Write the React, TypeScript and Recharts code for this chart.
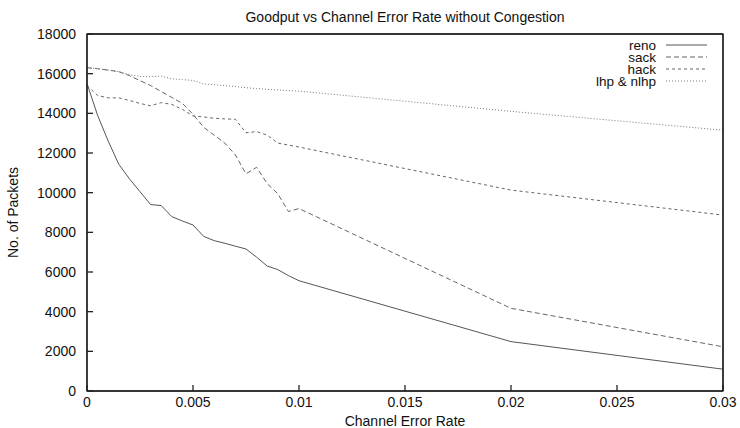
import { LineChart, Line, XAxis, YAxis } from 'recharts'

const ERROR_RATE = [
  0, 0.0005, 0.001, 0.0015, 0.002, 0.0025, 0.003, 0.0035, 0.004, 0.0045, 0.005,
  0.0055, 0.006, 0.0065, 0.007, 0.0075, 0.008, 0.0085, 0.009, 0.0095, 0.01, 0.02, 0.03,
]

const RENO = [
  15500, 13900, 12600, 11430, 10700, 10050, 9400, 9350, 8790, 8570, 8370,
  7800, 7580, 7450, 7300, 7160, 6750, 6300, 6120, 5820, 5560, 2490, 1100,
]
const SACK = [
  16300, 16250, 16180, 16100, 15900, 15650, 15400, 15100, 14800, 14500, 13950,
  13300, 12900, 12500, 11900, 10950, 11280, 10450, 9950, 9050, 9200, 4170, 2230,
]
const HACK = [
  15400, 14900, 14780, 14780, 14650, 14500, 14380, 14540, 14450, 14200, 13870,
  13820, 13750, 13720, 13700, 13020, 13080, 12900, 12500, 12400, 12300, 10130, 8870,
]
const LHP = [
  16300, 16250, 16180, 16100, 15950, 15860, 15850, 15880, 15740, 15700, 15660,
  15480, 15440, 15400, 15350, 15290, 15250, 15210, 15180, 15150, 15120, 14100, 13150,
]

const X_TICKS = [0, 0.005, 0.01, 0.015, 0.02, 0.025, 0.03]
const Y_TICKS = [0, 2000, 4000, 6000, 8000, 10000, 12000, 14000, 16000, 18000]

const SERIES = [
  { key: 'reno', label: 'reno', color: '#555555', dash: undefined },
  { key: 'sack', label: 'sack', color: '#666666', dash: '5 3' },
  { key: 'hack', label: 'hack', color: '#666666', dash: '3 3' },
  { key: 'lhp', label: 'lhp & nlhp', color: '#777777', dash: '1 2' },
]

const FONT = '"Liberation Sans", Arial, Helvetica, sans-serif'
const AXIS = '#222222'

const data = ERROR_RATE.map((x, i) => ({
  x,
  reno: RENO[i],
  sack: SACK[i],
  hack: HACK[i],
  lhp: LHP[i],
}))

// gnuplot style key in the top right corner
function KeyBox() {
  return (
    <svg
      width={160}
      height={52}
      style={{ position: 'absolute', left: 560, top: 38, display: 'block' }}
    >
      {SERIES.map((s, i) => (
        <g key={s.key}>
          <text
            x={96}
            y={7 + i * 12}
            textAnchor="end"
            dominantBaseline="central"
            fontSize={13.5}
            fontFamily={FONT}
            fill="#111"
          >
            {s.label}
          </text>
          <line
            x1={106}
            x2={147}
            y1={7 + i * 12}
            y2={7 + i * 12}
            stroke={s.color}
            strokeWidth={1}
            strokeDasharray={s.dash}
          />
        </g>
      ))}
    </svg>
  )
}

export default function App() {
  const tickStyle = { fill: '#111', fontSize: 14, fontFamily: FONT }
  const axisLine = { stroke: AXIS, strokeWidth: 1.3 }
  return (
    <div style={{ position: 'absolute', left: 0, top: 0, width: 740, height: 428, background: '#fff' }}>
      <div
        style={{
          position: 'absolute', left: 87, width: 636, top: 9, textAlign: 'center',
          fontFamily: FONT, fontSize: 14, color: '#111',
        }}
      >
        Goodput vs Channel Error Rate without Congestion
      </div>
      <LineChart
        width={740}
        height={428}
        data={data}
        margin={{ top: 30, right: 12, bottom: 0, left: 0 }}
      >
        <XAxis
          dataKey="x"
          type="number"
          domain={[0, 0.03]}
          ticks={X_TICKS}
          tickFormatter={(v: number) => String(v)}
          height={37}
          tickSize={-6}
          tickMargin={12}
          tick={tickStyle}
          axisLine={axisLine}
          tickLine={axisLine}
          label={{ value: 'Channel Error Rate', position: 'insideBottom', offset: 2, fill: '#111', fontSize: 14, fontFamily: FONT }}
        />
        <XAxis
          xAxisId="top"
          orientation="top"
          dataKey="x"
          type="number"
          domain={[0, 0.03]}
          ticks={X_TICKS}
          height={4}
          tickSize={-6}
          tickMargin={0}
          tick={false}
          axisLine={axisLine}
          tickLine={axisLine}
        />
        <YAxis
          type="number"
          domain={[0, 18000]}
          ticks={Y_TICKS}
          width={87}
          tickSize={-6}
          tickMargin={17}
          tick={tickStyle}
          axisLine={axisLine}
          tickLine={axisLine}
          label={{
            value: 'No. of Packets', angle: -90, position: 'insideLeft', offset: 13,
            fill: '#111', fontSize: 14, fontFamily: FONT, style: { textAnchor: 'middle' },
          }}
        />
        <YAxis
          yAxisId="right"
          orientation="right"
          type="number"
          domain={[0, 18000]}
          ticks={Y_TICKS}
          width={5}
          tickSize={-6}
          tickMargin={0}
          tick={false}
          axisLine={axisLine}
          tickLine={axisLine}
        />
        {/* invisible copy so the mirrored top/right axes get rendered */}
        <Line
          xAxisId="top"
          yAxisId="right"
          dataKey="reno"
          stroke="none"
          dot={false}
          activeDot={false}
          legendType="none"
          isAnimationActive={false}
        />
        {SERIES.map((s) => (
          <Line
            key={s.key}
            type="linear"
            dataKey={s.key}
            name={s.label}
            stroke={s.color}
            strokeWidth={1}
            strokeDasharray={s.dash}
            dot={false}
            activeDot={false}
            isAnimationActive={false}
          />
        ))}
      </LineChart>
      <svg
        width={740}
        height={428}
        style={{ position: 'absolute', left: 0, top: 0, pointerEvents: 'none' }}
      >
        <rect x={87} y={34} width={636} height={357} fill="none" stroke={AXIS} strokeWidth={1.3} />
      </svg>
      <KeyBox />
    </div>
  )
}
